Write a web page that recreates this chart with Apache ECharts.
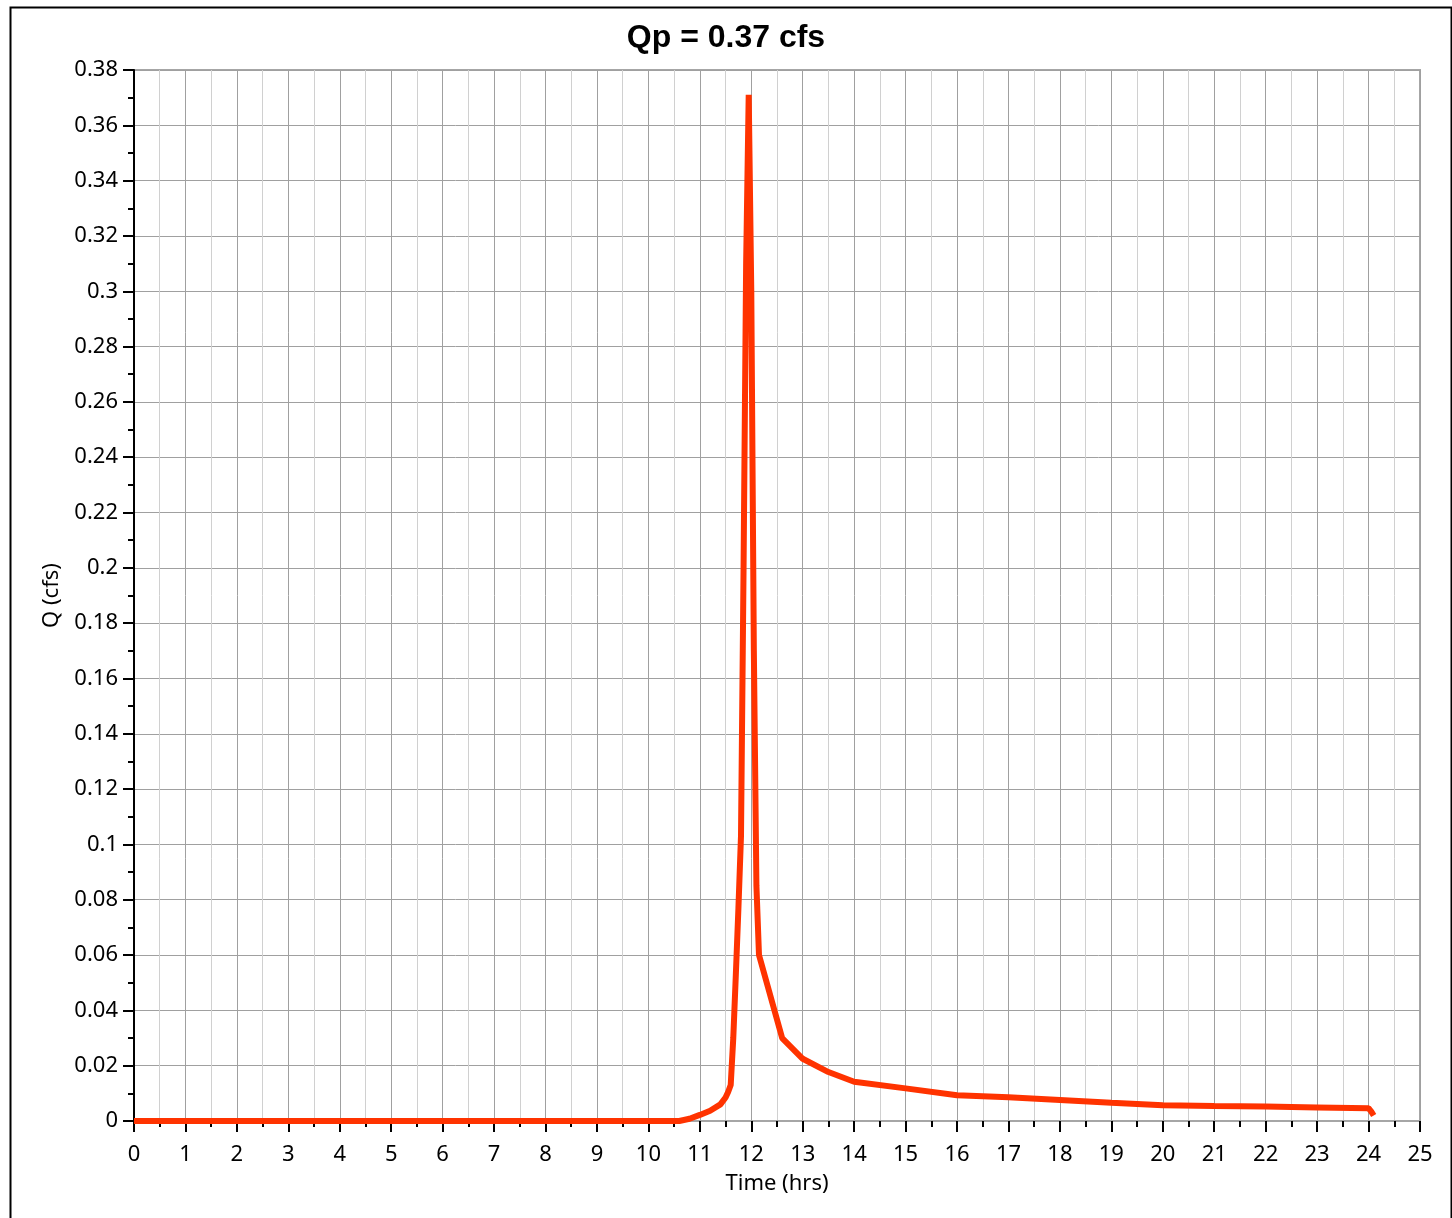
<!DOCTYPE html>
<html>
<head>
<meta charset="utf-8">
<script src="https://cdn.jsdelivr.net/npm/echarts@6/dist/echarts.min.js"></script>
<style>
html,body{margin:0;padding:0;background:#fff;}
#chart{width:1452px;height:1218px;}
</style>
</head>
<body>
<div id="chart"></div>
<script>
const titleText = 'Qp = 0.37 cfs';
const xAxisName = 'Time (hrs)';
const yAxisName = 'Q (cfs)';
const timeHrs = [0, 10.5, 10.6, 10.8, 11.0, 11.2, 11.4, 11.5, 11.55, 11.6, 11.65, 11.7, 11.75, 11.8, 11.85, 11.9, 11.95, 12.0, 12.05, 12.1, 12.15, 12.6, 13.0, 13.5, 14.0, 15.0, 16.0, 17.0, 18.0, 19.0, 20.0, 21.0, 22.0, 23.0, 24.0, 24.05, 24.1];
const flowCfs = [0, 0, 0, 0.0008, 0.0022, 0.0037, 0.006, 0.0085, 0.0105, 0.013, 0.03, 0.053, 0.077, 0.103, 0.2, 0.31, 0.371, 0.30, 0.17, 0.085, 0.06, 0.030, 0.0225, 0.0177, 0.0142, 0.0118, 0.0093, 0.0086, 0.0076, 0.0066, 0.0057, 0.0054, 0.0052, 0.0049, 0.0046, 0.0035, 0.002];
const xMin = 0, xMax = 25, xStep = 1;
const yMin = 0, yMax = 0.38, yStep = 0.02;

const chart = echarts.init(document.getElementById('chart'), null, {renderer: 'canvas'});
const font = 'Noto Sans';
chart.setOption({
  animation: false,
  backgroundColor: '#fff',
  graphic: [{
    type: 'rect', left: 8, top: 5, z: 100, silent: true,
    shape: {width: 1441, height: 1400},
    style: {fill: 'none', stroke: '#000', lineWidth: 2}
  }],
  title: {
    text: titleText, left: 'center', top: 17,
    textStyle: {fontFamily: 'Liberation Sans', fontWeight: 'bold', fontSize: 32, color: '#000'}
  },
  grid: {left: 134, right: 32, top: 70, bottom: 97, show: true, borderColor: '#a6a6a6', borderWidth: 2},
  xAxis: {
    type: 'value', min: xMin, max: xMax, interval: xStep,
    name: xAxisName, nameLocation: 'middle', nameGap: 52,
    nameTextStyle: {fontFamily: font, fontSize: 22, color: '#000'},
    axisLine: {show: true, onZero: false, lineStyle: {color: '#a6a6a6', width: 2}},
    axisTick: {show: true, length: 11, lineStyle: {color: '#000', width: 2}},
    minorTick: {show: true, splitNumber: 2, length: 6, lineStyle: {color: '#000', width: 2}},
    axisLabel: {fontFamily: font, fontSize: 22, color: '#000', margin: 23},
    splitLine: {show: true, lineStyle: {color: '#a0a0a0', width: 1}},
    minorSplitLine: {show: true, lineStyle: {color: '#d0d0d0', width: 1}}
  },
  yAxis: {
    type: 'value', min: yMin, max: yMax, interval: yStep,
    name: yAxisName, nameLocation: 'middle', nameGap: 71, nameRotate: 90,
    nameTextStyle: {fontFamily: font, fontSize: 22, color: '#000'},
    axisLine: {show: true, onZero: false, lineStyle: {color: '#000', width: 2}},
    axisTick: {show: true, length: 11, lineStyle: {color: '#000', width: 2}},
    minorTick: {show: true, splitNumber: 2, length: 6, lineStyle: {color: '#000', width: 2}},
    axisLabel: {fontFamily: font, fontSize: 22, color: '#000', margin: 16,
      formatter: v => String(parseFloat(v.toFixed(2)))},
    splitLine: {show: true, lineStyle: {color: '#a0a0a0', width: 1}},
    minorSplitLine: {show: false}
  },
  series: [{
    type: 'line',
    data: timeHrs.map((t, i) => [t, flowCfs[i]]),
    showSymbol: false, symbol: 'none', smooth: false,
    lineStyle: {color: '#ff3300', width: 6, join: 'bevel'},
    z: 5
  }]
});
</script>
</body>
</html>
